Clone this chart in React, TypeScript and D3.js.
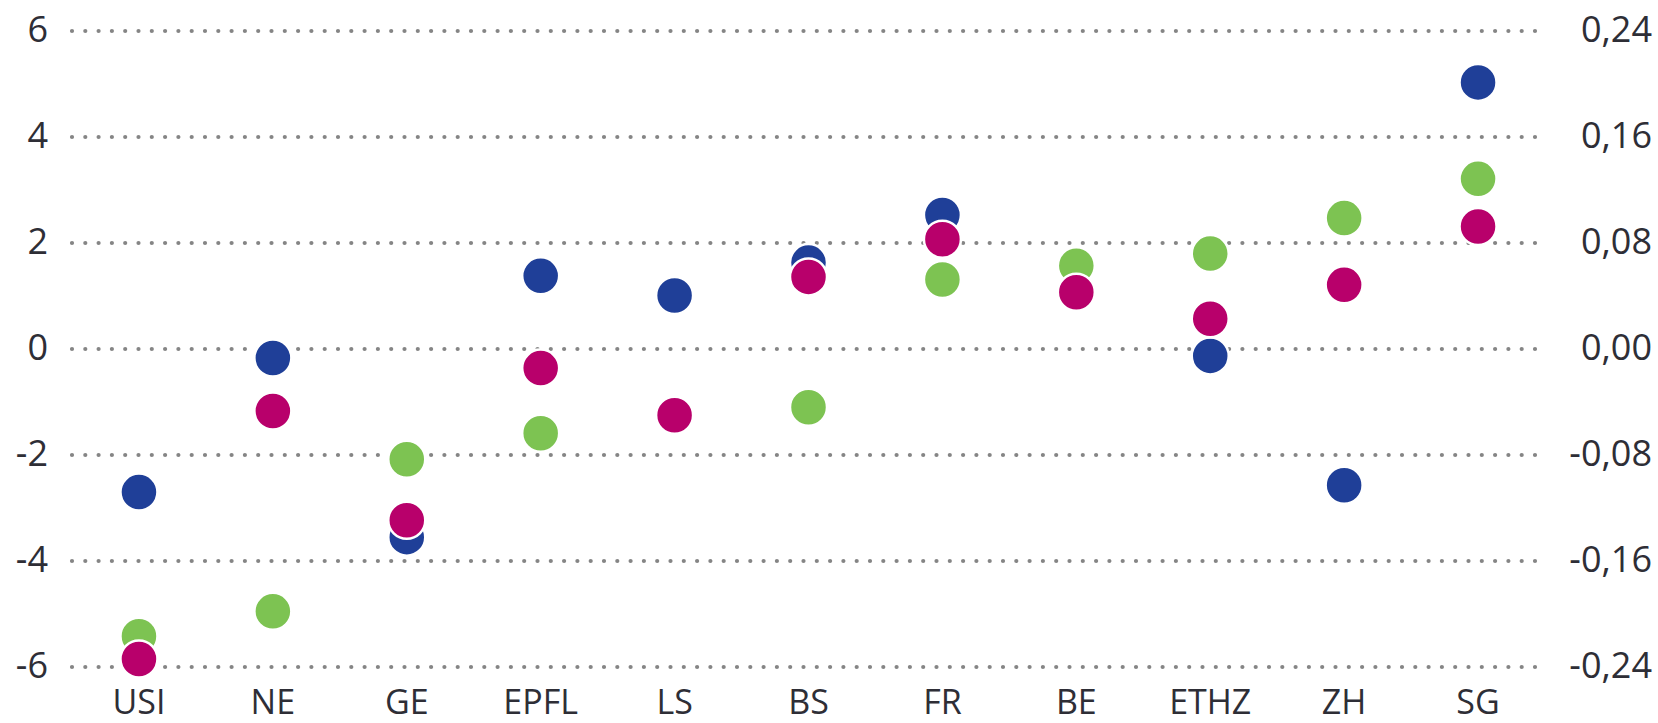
import React, { useEffect, useRef } from 'react';
import * as d3 from 'd3';

const categories = ['USI', 'NE', 'GE', 'EPFL', 'LS', 'BS', 'FR', 'BE', 'ETHZ', 'ZH', 'SG'];

// values
const blueValues: (number | null)[] = [-2.7, -0.17, -3.55, 1.38, 1.01, 1.63, 2.53, null, -0.13, -2.57, 5.03];
const greenValues: (number | null)[] = [-5.42, -4.95, -2.08, -1.59, null, -1.1, 1.31, 1.57, 1.8, 2.47, 3.21];
const magentaValues: (number | null)[] = [-5.85, -1.17, -3.23, -0.36, -1.25, 1.36, 2.07, 1.07, 0.57, 1.21, 2.31];

const leftTicks = [-6, -4, -2, 0, 2, 4, 6];
const rightTicks = [-0.24, -0.16, -0.08, 0, 0.08, 0.16, 0.24];

const series = [
  { name: 'blue', color: '#1f3f98', values: blueValues },
  { name: 'green', color: '#7dc352', values: greenValues },
  { name: 'magenta', color: '#b8006b', values: magentaValues },
];

const W = 1658;
const H = 723;
const FONT = '"Open Sans", sans-serif';

const App = () => {
  const svgRef = useRef<SVGSVGElement>(null);

  useEffect(() => {
    document.body.style.margin = '0';
    const svg = d3.select(svgRef.current).attr('width', W).attr('height', H);
    svg.selectAll('*').remove();

    const x = d3.scalePoint<string>().domain(categories).range([72, 1545]).padding(0.5);
    const y = d3.scaleLinear().domain([-6, 6]).range([667, 31]);
    const y2 = d3.scaleLinear().domain([-0.24, 0.24]).range([667, 31]);

    // dotted grid
    svg.append('g')
      .selectAll('line')
      .data(leftTicks)
      .enter()
      .append('line')
      .attr('x1', 72)
      .attr('x2', 1545)
      .attr('y1', d => y(d))
      .attr('y2', d => y(d))
      .attr('stroke', '#858585')
      .attr('stroke-width', 4.2)
      .attr('stroke-linecap', 'round')
      .attr('stroke-dasharray', '0 13.3');

    const fmt = (v: number) => (v < 0 ? '-' : '') + Math.abs(v).toFixed(0);
    svg.append('g')
      .selectAll('text')
      .data(leftTicks)
      .enter()
      .append('text')
      .attr('x', 48)
      .attr('y', d => y(d) + 11)
      .attr('text-anchor', 'end')
      .style('font-family', FONT)
      .style('font-size', '36px')
      .style('fill', '#2e2e36')
      .text(d => fmt(d));

    const fmt2 = (v: number) => (v < 0 ? '-' : '') + Math.abs(v).toFixed(2).replace('.', ',');
    svg.append('g')
      .selectAll('text')
      .data(rightTicks)
      .enter()
      .append('text')
      .attr('x', 1652)
      .attr('y', d => y2(d) + 11)
      .attr('text-anchor', 'end')
      .style('font-family', FONT)
      .style('font-size', '36px')
      .style('fill', '#2e2e36')
      .text(d => fmt2(d));

    // category labels
    svg.append('g')
      .selectAll('text')
      .data(categories)
      .enter()
      .append('text')
      .attr('x', d => x(d)!)
      .attr('y', 714)
      .attr('text-anchor', 'middle')
      .style('font-family', FONT)
      .style('font-size', '34px')
      .style('fill', '#2e2e36')
      .text(d => d);

    // dots: blue under green under magenta
    series.forEach(s => {
      const pts = categories
        .map((c, i) => ({ c, v: s.values[i] }))
        .filter(p => p.v !== null) as { c: string; v: number }[];
      svg.append('g')
        .selectAll('circle')
        .data(pts)
        .enter()
        .append('circle')
        .attr('cx', d => x(d.c)!)
        .attr('cy', d => y(d.v))
        .attr('r', 18.5)
        .attr('fill', s.color)
        .attr('stroke', '#fff')
        .attr('stroke-width', 2.5);
    });
  }, []);

  return (
    <div style={{ width: W, height: H }}>
      <svg ref={svgRef} style={{ display: 'block' }}></svg>
    </div>
  );
};

export default App;
